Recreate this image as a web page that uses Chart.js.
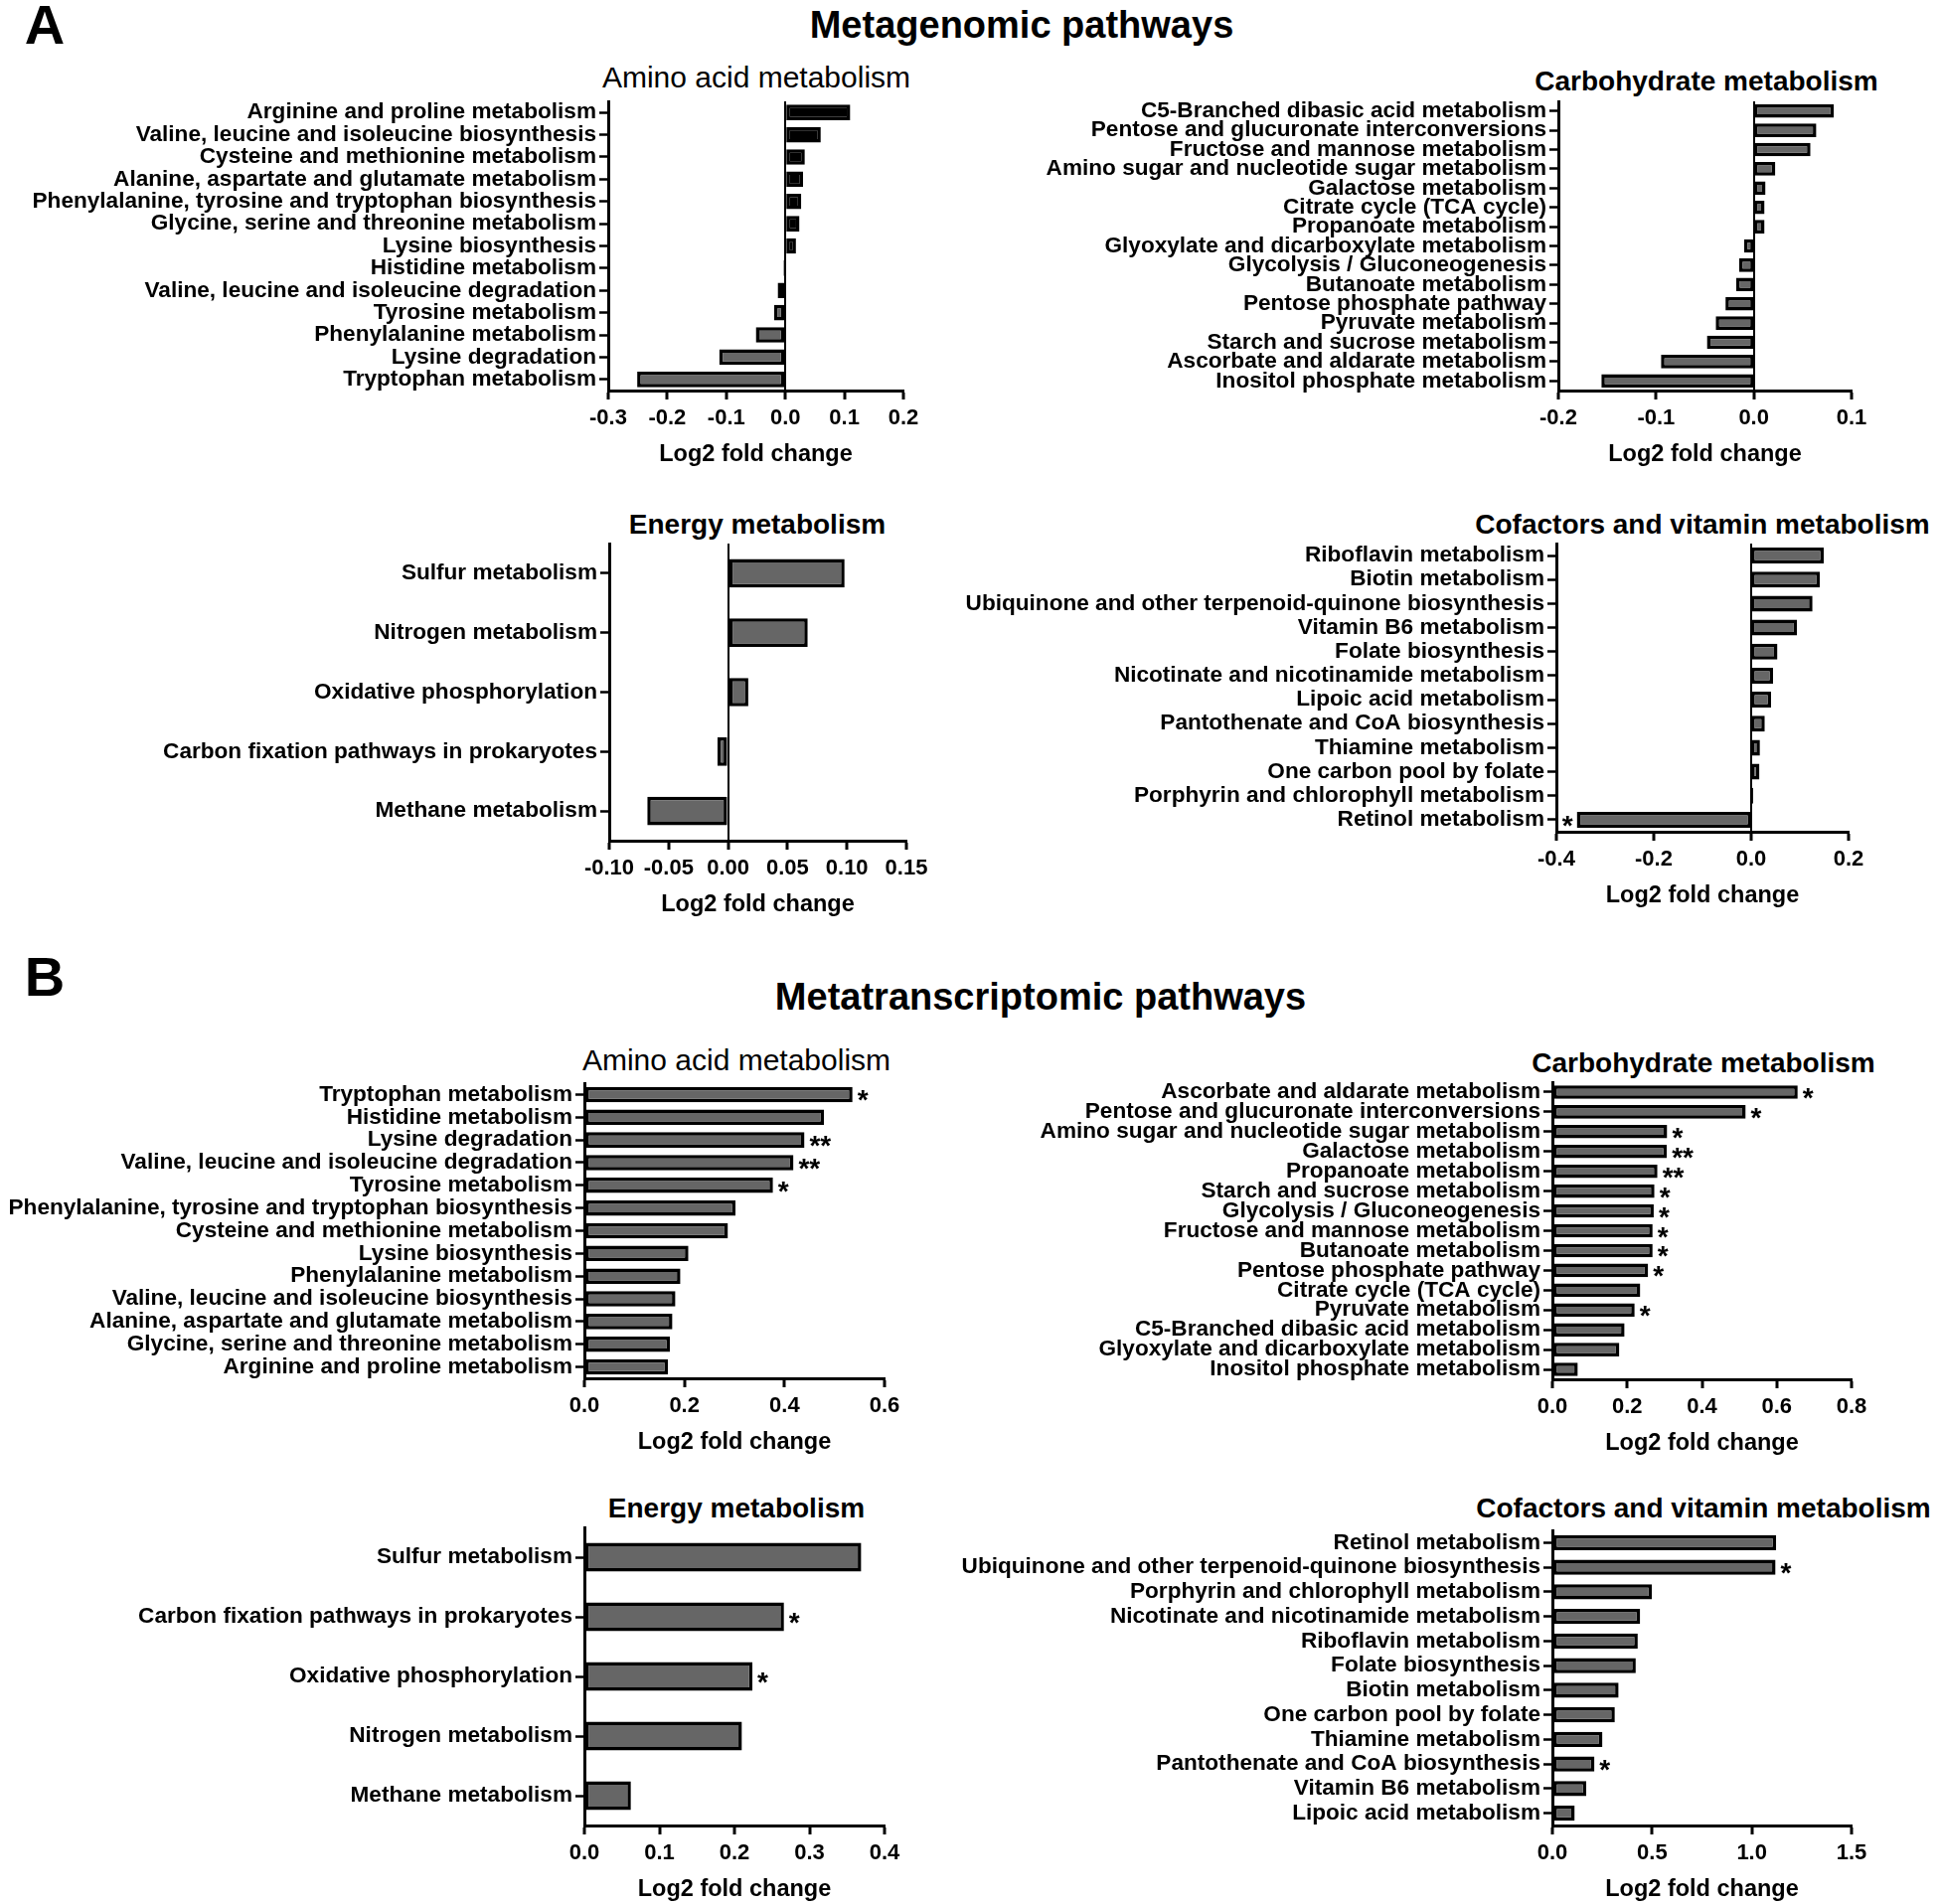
<!DOCTYPE html>
<html lang="en">
<head>
<meta charset="UTF-8" />
<title>Metagenomic and metatranscriptomic pathways</title>
<script src="https://cdn.jsdelivr.net/npm/chart.js@4"></script>
<style>
  html, body { margin: 0; padding: 0; background: #fff; overflow: hidden; }
  body { width: 1952px; height: 1916px; position: relative; font-family: 'Liberation Sans', Arial, sans-serif; color: #000; }
  .lbl { position: absolute; white-space: nowrap; transform: translate(-50%, -50%); line-height: 1; }
  .bold { font-weight: bold; }
  canvas { position: absolute; }
</style>
</head>
<body>
  <div class="lbl bold" style="left:45px;top:25px;font-size:56px">A</div>
  <div class="lbl bold" style="left:1028px;top:25px;font-size:38px">Metagenomic pathways</div>
  <div class="lbl bold" style="left:45px;top:983px;font-size:56px">B</div>
  <div class="lbl bold" style="left:1047px;top:1003px;font-size:38px">Metatranscriptomic pathways</div>

  <div class="lbl" style="left:761px;top:78px;font-size:30px">Amino acid metabolism</div>
  <div class="lbl bold" style="left:1717px;top:82px;font-size:28px">Carbohydrate metabolism</div>
  <div class="lbl bold" style="left:762px;top:528px;font-size:28px">Energy metabolism</div>
  <div class="lbl bold" style="left:1713px;top:528px;font-size:28px">Cofactors and vitamin metabolism</div>
  <div class="lbl" style="left:741px;top:1067px;font-size:30px">Amino acid metabolism</div>
  <div class="lbl bold" style="left:1714px;top:1070px;font-size:28px">Carbohydrate metabolism</div>
  <div class="lbl bold" style="left:741px;top:1518px;font-size:28px">Energy metabolism</div>
  <div class="lbl bold" style="left:1714px;top:1518px;font-size:28px">Cofactors and vitamin metabolism</div>

<script>
// ---- A: metagenomic ----
const mgAminoLabels = ['Arginine and proline metabolism', 'Valine, leucine and isoleucine biosynthesis',
  'Cysteine and methionine metabolism', 'Alanine, aspartate and glutamate metabolism',
  'Phenylalanine, tyrosine and tryptophan biosynthesis', 'Glycine, serine and threonine metabolism',
  'Lysine biosynthesis', 'Histidine metabolism', 'Valine, leucine and isoleucine degradation',
  'Tyrosine metabolism', 'Phenylalanine metabolism', 'Lysine degradation', 'Tryptophan metabolism'];
const mgAminoValues = [0.110, 0.060, 0.033, 0.030, 0.027, 0.024, 0.018, -0.003, -0.013, -0.019, -0.050, -0.112, -0.251];

const mgCarbLabels = ['C5-Branched dibasic acid metabolism', 'Pentose and glucuronate interconversions',
  'Fructose and mannose metabolism', 'Amino sugar and nucleotide sugar metabolism', 'Galactose metabolism',
  'Citrate cycle (TCA cycle)', 'Propanoate metabolism', 'Glyoxylate and dicarboxylate metabolism',
  'Glycolysis / Gluconeogenesis', 'Butanoate metabolism', 'Pentose phosphate pathway', 'Pyruvate metabolism',
  'Starch and sucrose metabolism', 'Ascorbate and aldarate metabolism', 'Inositol phosphate metabolism'];
const mgCarbValues = [0.082, 0.064, 0.058, 0.022, 0.012, 0.011, 0.011, -0.010, -0.015, -0.018, -0.029, -0.039, -0.048, -0.095, -0.156];

const mgEnergyLabels = ['Sulfur metabolism', 'Nitrogen metabolism', 'Oxidative phosphorylation',
  'Carbon fixation pathways in prokaryotes', 'Methane metabolism'];
const mgEnergyValues = [0.098, 0.067, 0.017, -0.009, -0.068];

const mgCofLabels = ['Riboflavin metabolism', 'Biotin metabolism', 'Ubiquinone and other terpenoid-quinone biosynthesis',
  'Vitamin B6 metabolism', 'Folate biosynthesis', 'Nicotinate and nicotinamide metabolism', 'Lipoic acid metabolism',
  'Pantothenate and CoA biosynthesis', 'Thiamine metabolism', 'One carbon pool by folate',
  'Porphyrin and chlorophyll metabolism', 'Retinol metabolism'];
const mgCofValues = [0.149, 0.141, 0.126, 0.094, 0.054, 0.045, 0.041, 0.028, 0.018, 0.017, 0.004, -0.358];
const mgCofStars = ['', '', '', '', '', '', '', '', '', '', '', '*'];

// ---- B: metatranscriptomic ----
const mtAminoLabels = ['Tryptophan metabolism', 'Histidine metabolism', 'Lysine degradation',
  'Valine, leucine and isoleucine degradation', 'Tyrosine metabolism',
  'Phenylalanine, tyrosine and tryptophan biosynthesis', 'Cysteine and methionine metabolism',
  'Lysine biosynthesis', 'Phenylalanine metabolism', 'Valine, leucine and isoleucine biosynthesis',
  'Alanine, aspartate and glutamate metabolism', 'Glycine, serine and threonine metabolism',
  'Arginine and proline metabolism'];
const mtAminoValues = [0.536, 0.479, 0.440, 0.418, 0.377, 0.302, 0.287, 0.208, 0.192, 0.182, 0.176, 0.171, 0.167];
const mtAminoStars = ['*', '', '**', '**', '*', '', '', '', '', '', '', '', ''];

const mtCarbLabels = ['Ascorbate and aldarate metabolism', 'Pentose and glucuronate interconversions',
  'Amino sugar and nucleotide sugar metabolism', 'Galactose metabolism', 'Propanoate metabolism',
  'Starch and sucrose metabolism', 'Glycolysis / Gluconeogenesis', 'Fructose and mannose metabolism',
  'Butanoate metabolism', 'Pentose phosphate pathway', 'Citrate cycle (TCA cycle)', 'Pyruvate metabolism',
  'C5-Branched dibasic acid metabolism', 'Glyoxylate and dicarboxylate metabolism', 'Inositol phosphate metabolism'];
const mtCarbValues = [0.656, 0.517, 0.307, 0.306, 0.281, 0.273, 0.271, 0.268, 0.268, 0.256, 0.235, 0.220, 0.193, 0.179, 0.068];
const mtCarbStars = ['*', '*', '*', '**', '**', '*', '*', '*', '*', '*', '', '*', '', '', ''];

const mtEnergyLabels = ['Sulfur metabolism', 'Carbon fixation pathways in prokaryotes', 'Oxidative phosphorylation',
  'Nitrogen metabolism', 'Methane metabolism'];
const mtEnergyValues = [0.369, 0.266, 0.224, 0.210, 0.062];
const mtEnergyStars = ['', '*', '*', '', ''];

const mtCofLabels = ['Retinol metabolism', 'Ubiquinone and other terpenoid-quinone biosynthesis',
  'Porphyrin and chlorophyll metabolism', 'Nicotinate and nicotinamide metabolism', 'Riboflavin metabolism',
  'Folate biosynthesis', 'Biotin metabolism', 'One carbon pool by folate', 'Thiamine metabolism',
  'Pantothenate and CoA biosynthesis', 'Vitamin B6 metabolism', 'Lipoic acid metabolism'];
const mtCofValues = [1.122, 1.119, 0.499, 0.440, 0.428, 0.418, 0.332, 0.313, 0.251, 0.211, 0.170, 0.112];
const mtCofStars = ['', '*', '', '', '', '', '', '', '', '*', '', ''];

const FONT = "'Liberation Sans', Arial, sans-serif";
const Y_AXIS_W = 660, PAD_TOP = 20, X_AXIS_H = 90, PAD_RIGHT = 70;
const GREY = '#666666';

// asterisks next to bar ends
const starPlugin = {
  id: 'stars',
  afterDatasetsDraw(chart, args, opts) {
    const marks = opts.marks;
    if (!marks) return;
    const ctx = chart.ctx;
    const meta = chart.getDatasetMeta(0);
    const data = chart.data.datasets[0].data;
    ctx.save();
    ctx.fillStyle = '#000';
    ctx.font = 'bold 28px ' + FONT;
    ctx.textBaseline = 'alphabetic';
    meta.data.forEach((bar, i) => {
      const m = marks[i];
      if (!m) return;
      if (data[i] >= 0) {
        ctx.textAlign = 'left';
        ctx.fillText(m, bar.x + 5, bar.y + 15);
      } else {
        ctx.textAlign = 'right';
        ctx.fillText(m, bar.x - 4, bar.y + 15);
      }
    });
    ctx.restore();
  }
};

function makePanel(p) {
  const cv = document.createElement('canvas');
  const w = Y_AXIS_W + (p.right - p.left) + PAD_RIGHT;
  const h = PAD_TOP + (p.bottom - p.top) + X_AXIS_H;
  cv.width = w; cv.height = h;
  cv.style.width = w + 'px'; cv.style.height = h + 'px';
  cv.style.left = (p.left - Y_AXIS_W) + 'px';
  cv.style.top = (p.top - PAD_TOP) + 'px';
  document.body.appendChild(cv);

  const fill = p.values.map(v => (p.blackPositive && v > 0) ? '#000' : GREY);

  new Chart(cv, {
    type: 'bar',
    data: {
      labels: p.labels,
      datasets: [{
        data: p.values,
        backgroundColor: fill,
        borderColor: '#000',
        borderWidth: 3.5,
        borderSkipped: false,
        barPercentage: p.barPct,
        categoryPercentage: 1
      }]
    },
    options: {
      indexAxis: 'y',
      responsive: false,
      animation: false,
      devicePixelRatio: 1,
      events: [],
      layout: { padding: { top: PAD_TOP, right: PAD_RIGHT, left: 0, bottom: 0 } },
      plugins: {
        legend: { display: false },
        tooltip: { enabled: false },
        stars: { marks: p.stars || null }
      },
      scales: {
        y: {
          type: 'category',
          offset: true,
          afterFit: s => { s.width = Y_AXIS_W; },
          border: { display: true, color: '#000', width: 3 },
          grid: { display: true, offset: false, drawOnChartArea: false, drawTicks: true,
                  tickLength: 9, tickWidth: 2.5, tickColor: '#000', color: '#000' },
          ticks: { autoSkip: false, padding: 3, color: '#000',
                   font: { family: FONT, size: 22.6, weight: 'bold' } }
        },
        x: {
          type: 'linear',
          min: p.min, max: p.max,
          afterFit: s => { s.height = X_AXIS_H; },
          border: { display: true, color: '#000', width: 3 },
          grid: {
            display: true,
            drawOnChartArea: p.min < 0,
            drawTicks: true,
            tickLength: 9, tickWidth: 3, tickColor: '#000',
            lineWidth: 2,
            color: c => (c.tick && Math.abs(c.tick.value) < 1e-9) ? '#000' : 'rgba(0,0,0,0)'
          },
          ticks: {
            stepSize: p.step, padding: 6, maxRotation: 0, autoSkip: false, color: '#000',
            font: { family: FONT, size: 22, weight: 'bold' },
            callback: v => (Math.abs(v) < 1e-9 ? 0 : v).toFixed(p.dec)
          },
          title: {
            display: true, text: 'Log2 fold change', color: '#000',
            padding: { top: 0, bottom: 11 },
            font: { family: FONT, size: 23.5, weight: 'bold' }
          }
        }
      }
    },
    plugins: [starPlugin]
  });
}

makePanel({ labels: mgAminoLabels, values: mgAminoValues, blackPositive: true,
  left: 612, right: 909, top: 102, bottom: 393, min: -0.3, max: 0.2, step: 0.1, dec: 1, barPct: 0.7 });
makePanel({ labels: mgCarbLabels, values: mgCarbValues,
  left: 1568, right: 1863, top: 102, bottom: 393, min: -0.2, max: 0.1, step: 0.1, dec: 1, barPct: 0.7 });
makePanel({ labels: mgEnergyLabels, values: mgEnergyValues,
  left: 613, right: 912, top: 547, bottom: 846, min: -0.1, max: 0.15, step: 0.05, dec: 2, barPct: 0.48 });
makePanel({ labels: mgCofLabels, values: mgCofValues, stars: mgCofStars,
  left: 1566, right: 1860, top: 547, bottom: 837, min: -0.4, max: 0.2, step: 0.2, dec: 1, barPct: 0.66 });

makePanel({ labels: mtAminoLabels, values: mtAminoValues, stars: mtAminoStars,
  left: 588, right: 890, top: 1090, bottom: 1387, min: 0, max: 0.6, step: 0.2, dec: 1, barPct: 0.68 });
makePanel({ labels: mtCarbLabels, values: mtCarbValues, stars: mtCarbStars,
  left: 1562, right: 1863, top: 1089, bottom: 1388, min: 0, max: 0.8, step: 0.2, dec: 1, barPct: 0.68 });
makePanel({ labels: mtEnergyLabels, values: mtEnergyValues, stars: mtEnergyStars,
  left: 588, right: 890, top: 1537, bottom: 1837, min: 0, max: 0.4, step: 0.1, dec: 1, barPct: 0.48 });
makePanel({ labels: mtCofLabels, values: mtCofValues, stars: mtCofStars,
  left: 1562, right: 1863, top: 1540, bottom: 1837, min: 0, max: 1.5, step: 0.5, dec: 1, barPct: 0.62 });
</script>
</body>
</html>
